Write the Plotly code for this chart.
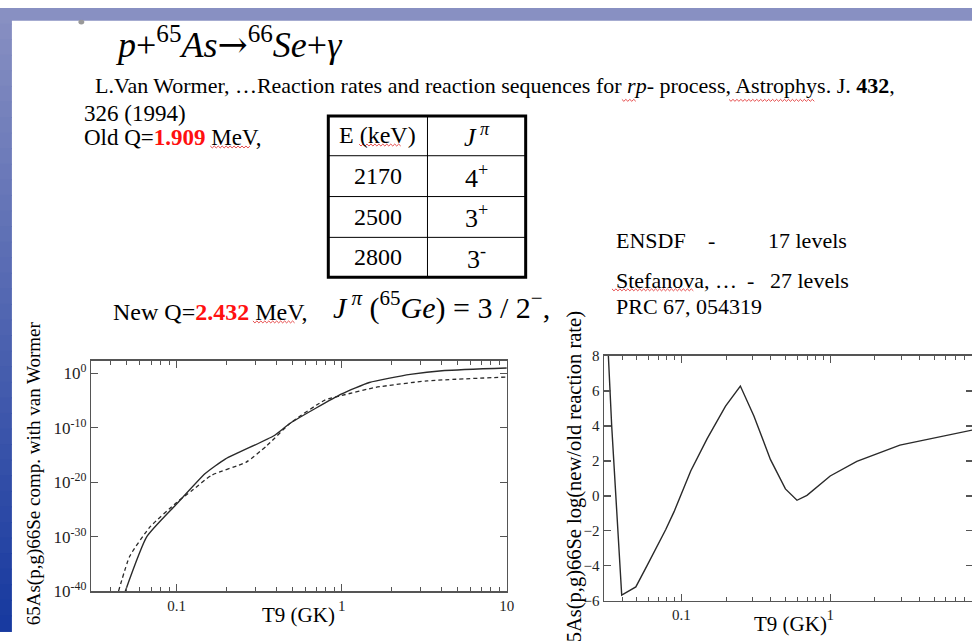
import plotly.graph_objects as go

W, H = 980, 641
def X(px): return px / W
def Y(py): return 1 - py / H

# ---------------- data ----------------
# left panel: reaction rate comparison (log10 of rate)
t9_new = [0.0489, 0.066, 0.1, 0.149, 0.198, 0.386, 0.49, 1.0, 1.47, 2.6, 4.2, 10.0]
lograte_new = [-40.0, -30.0, -24.0, -18.4, -15.7, -11.5, -9.1, -3.76, -1.67, -0.18, 0.54, 1.01]
t9_old = [0.0445, 0.052, 0.069, 0.1, 0.123, 0.163, 0.264, 0.351, 0.49, 0.79, 1.0, 1.61, 3.3, 10.0]
lograte_old = [-40.0, -33.6, -28.2, -23.7, -21.6, -18.7, -16.3, -13.3, -9.1, -4.9, -4.05, -2.56, -1.37, -0.66]

# right panel: log(new/old reaction rate)
t9_ratio = [0.0323, 0.034, 0.0397, 0.0494, 0.059, 0.0785, 0.0893, 0.1155, 0.149, 0.198, 0.249,
            0.307, 0.397, 0.5, 0.598, 0.698, 1.0, 1.51, 2.94, 5.46, 9.1]
log_ratio = [8.0, 4.01, -5.67, -5.2, -3.96, -1.92, -0.9, 1.42, 3.27, 5.13, 6.28,
             4.57, 2.07, 0.40, -0.25, 0.03, 1.14, 1.97, 2.90, 3.36, 3.77]

left_ytickvals = [1e0, 1e-10, 1e-20, 1e-30, 1e-40]
left_yticktext = ["10<sup>0</sup>", "10<sup>-10</sup>", "10<sup>-20</sup>", "10<sup>-30</sup>", "10<sup>-40</sup>"]
xtickvals = [0.1, 1, 10]
xticktext = ["0.1", "1", "10"]
right_ytickvals = [-6, -4, -2, 0, 2, 4, 6, 8]

table_energy = ["2170", "2500", "2800"]
table_jpi = ["4<sup>+</sup>", "3<sup>+</sup>", "3<sup>-</sup>"]

SERIF = "Liberation Serif"
FRAME = "#555555"
LINE = "#2a2a2a"

fig = go.Figure()
fig.add_trace(go.Scatter(x=t9_new, y=[10 ** v for v in lograte_new], mode="lines",
                         line=dict(color=LINE, width=1.4, shape="spline", smoothing=0.5),
                         xaxis="x", yaxis="y", showlegend=False, hoverinfo="skip"))
fig.add_trace(go.Scatter(x=t9_old, y=[10 ** v for v in lograte_old], mode="lines",
                         line=dict(color=LINE, width=1.3, dash="4px,3px", shape="spline", smoothing=0.5),
                         xaxis="x", yaxis="y", showlegend=False, hoverinfo="skip"))
fig.add_trace(go.Scatter(x=t9_ratio, y=log_ratio, mode="lines",
                         line=dict(color=LINE, width=1.4),
                         xaxis="x2", yaxis="y2", showlegend=False, hoverinfo="skip"))
# invisible trace to carry right-side ticks of right panel
fig.add_trace(go.Scatter(x=[0.1], y=[0], mode="markers", marker=dict(opacity=0),
                         xaxis="x2", yaxis="y3", showlegend=False, hoverinfo="skip"))

minor_x = [m * 10 ** e for e in (-2, -1, 0) for m in range(2, 10)]

tickfont = dict(family=SERIF, size=15, color="#222")
common_x = dict(type="log", showgrid=False, zeroline=False, showline=True, linecolor=FRAME,
                linewidth=1.5, mirror="ticks", ticks="inside", ticklen=7, tickwidth=1.2,
                tickcolor=FRAME, tickvals=xtickvals, ticktext=xticktext, tickfont=tickfont,
                minor=dict(ticks="inside", ticklen=4, tickwidth=1, tickcolor=FRAME, tickvals=minor_x))

fig.update_layout(
    width=W, height=H, margin=dict(l=0, r=0, t=0, b=0),
    paper_bgcolor="white", plot_bgcolor="white",
    xaxis=dict(common_x, domain=[X(92), X(511)], range=[-1.517, 1.0], anchor="y"),
    yaxis=dict(type="log", domain=[Y(600), Y(363)], range=[-40, 2.32], anchor="x",
               showgrid=False, zeroline=False, showline=True, linecolor=FRAME, linewidth=1.5,
               mirror="ticks", ticks="inside", ticklen=7, tickwidth=1.2, tickcolor=FRAME,
               tickvals=left_ytickvals, ticktext=left_yticktext,
               tickfont=dict(family=SERIF, size=17, color="#222")),
    xaxis2=dict(common_x, domain=[X(609), 1.0], range=[-1.52, 0.953], anchor="y2"),
    yaxis2=dict(domain=[Y(610), Y(358)], range=[-6, 8], anchor="x2",
                showgrid=False, zeroline=False, showline=True, linecolor=FRAME, linewidth=1.5,
                ticks="inside", ticklen=7, tickwidth=1.2, tickcolor=FRAME,
                tickvals=right_ytickvals, tickfont=tickfont),
    yaxis3=dict(overlaying="y2", side="right", anchor="x2", range=[-6, 8], showgrid=False,
                zeroline=False, showline=False, ticks="inside", ticklen=6, tickwidth=1.2,
                tickcolor=FRAME, tickvals=right_ytickvals, showticklabels=False),
)

shapes = []
# slide background frame (gradient approximated with bands)
top_c = (136, 144, 194)
bot_c = (24, 58, 160)
n = 40
for i in range(n):
    f = i / (n - 1)
    c = tuple(int(top_c[k] + (bot_c[k] - top_c[k]) * f) for k in range(3))
    shapes.append(dict(type="rect", xref="paper", yref="paper", x0=0, x1=X(12),
                       y0=Y((i + 1) * H / n + 1), y1=Y(i * H / n), fillcolor="rgb(%d,%d,%d)" % c,
                       line=dict(width=0), layer="below"))
shapes.append(dict(type="rect", xref="paper", yref="paper", x0=0, x1=1, y0=Y(13), y1=1,
                   fillcolor="rgb(136,144,194)", line=dict(width=0), layer="below"))
shapes.append(dict(type="circle", xref="paper", yref="paper", x0=X(79), x1=X(85), y0=Y(17), y1=Y(12),
                   fillcolor="#999", line=dict(width=0)))

# table
tl, tm, tr = 331, 431, 530
rows = [111, 152, 194, 236, 277]
for ry in rows[1:-1]:
    shapes.append(dict(type="line", xref="paper", yref="paper", x0=X(tl), x1=X(tr), y0=Y(ry), y1=Y(ry),
                       line=dict(color="black", width=1)))
shapes.append(dict(type="line", xref="paper", yref="paper", x0=X(tm), x1=X(tm), y0=Y(rows[0]), y1=Y(rows[-1]),
                   line=dict(color="black", width=1)))
shapes.append(dict(type="rect", xref="paper", yref="paper", x0=X(tl), x1=X(tr), y0=Y(rows[-1]), y1=Y(rows[0]),
                   line=dict(color="black", width=3)))

# spell-check style red wavy underlines
def wavy(x0, x1, y):
    pts = []
    x, up = x0, True
    while x <= x1:
        pts.append("%.5f,%.5f" % (X(x), Y(y - 1 if up else y + 1)))
        x += 2
        up = not up
    shapes.append(dict(type="path", xref="paper", yref="paper", path="M" + " L".join(pts),
                       line=dict(color="#e02020", width=0.8)))

wavy(627, 641, 95)     # rp
wavy(735, 821, 95)     # Astrophys
wavy(212, 252, 143)    # MeV (old)
wavy(362, 404, 141)    # keV
wavy(255, 298, 323)    # MeV (new)
wavy(617, 700, 290)    # Stefanova
fig.update_layout(shapes=shapes)

ann = []
def text(x, y, s, size=24, xanchor="left", yanchor="middle", angle=0, color="black", family=SERIF):
    ann.append(dict(x=X(x), y=Y(y), xref="paper", yref="paper", text=s, showarrow=False,
                    xanchor=xanchor, yanchor=yanchor, textangle=angle,
                    font=dict(family=family, size=size, color=color)))

text(114, 36, "<i>p</i>+<sup>65</sup><i>As</i><span style='font-family:DejaVu Serif'>→</span>"
              "<sup>66</sup><i>Se</i>+<i>γ</i>", size=36)
text(94, 80, "L.Van Wormer, …Reaction rates and reaction sequences for <i>rp</i>- process, Astrophys. J. <b>432</b>,", size=22)
text(83, 109, "326 (1994)", size=23)
text(83, 133, "Old Q=<span style='color:#ff1010'><b>1.909</b></span> MeV,", size=23)

# table cells
cx1, cx2 = (tl + tm) / 2, (tm + tr) / 2
text(cx1, 131, "E (keV)", size=24, xanchor="center")
text(cx2, 131, "<i>J</i><sup> <i>π</i></sup>", size=26, xanchor="center")
for i in range(3):
    cy = (rows[i + 1] + rows[i + 2]) / 2
    text(cx1, cy, table_energy[i], size=24, xanchor="center")
    text(cx2, cy, table_jpi[i], size=26, xanchor="center")

text(112, 313, "New Q=<span style='color:#ff1010'><b>2.432</b></span> MeV,", size=24)
text(334, 306, "<i>J</i><sup> <i>π</i></sup> (<sup>65</sup><i>Ge</i>) = 3 / 2<sup>−</sup>,", size=30)

text(619, 239, "ENSDF", size=22)
text(712, 239, "-", size=22)
text(772, 239, "17 levels", size=22)
text(619, 280, "Stefanova, …", size=22)
text(751, 280, "-", size=22)
text(774, 280, "27 levels", size=22)
text(619, 307, "PRC 67, 054319", size=22)

# axis titles
text(34, 479, "65As(p,g)66Se comp. with van Wormer", size=19, xanchor="center", angle=-90)
text(301, 625, "T9 (GK)", size=21, xanchor="center")
text(579, 487, "65As(p,g)66Se log(new/old reaction rate)", size=20.5, xanchor="center", angle=-90)
text(797, 634, "T9 (GK)", size=21, xanchor="center")

fig.update_layout(annotations=ann)
fig.write_html("out.html", config={"staticPlot": True, "displayModeBar": False}, post_script=(
    "document.body.style.margin='0';document.body.style.padding='0';"
    "document.body.style.overflow='hidden';"
    "var d=document.getElementsByClassName('plotly-graph-div')[0];"
    "d.style.position='fixed';d.style.left='0px';d.style.top='0px';"))
